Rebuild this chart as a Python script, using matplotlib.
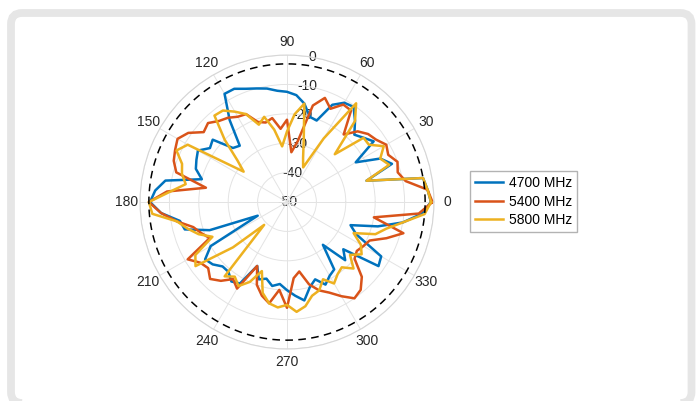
import numpy as np
import matplotlib.pyplot as plt
from matplotlib.patches import FancyBboxPatch

plt.rcParams['font.family'] = ['Liberation Sans', 'DejaVu Sans']

# Angles (deg) and gain (dB)
angles = list(range(0, 360, 5))

gain_4700 = [-1, -2, -3, -22, -12, -15, -23, -14, -16, -17.6, -14, -10.5,
             -11, -13.5, -20.5, -20, -16, -13.5, -12.5, -12, -10.8, -10, -9, -7.5,
             -7.5, -16, -25, -24, -17, -18, -15, -16, -17, -20, -8, -5,
             -3.4, -7, -13, -14, -22, -39, -20, -16, -17, -19, -19, -17,
             -18, -26, -22, -23, -21, -22, -20, -18, -16, -20, -22, -19,
             -21, -22, -31, -22, -25, -12, -13, -24, -27, -18, -10, -4]

gain_5400 = [-0.5, -2, -9, -11, -10, -12, -11, -13, -14, -16, -20, -12,
             -11.7, -15, -12.3, -16, -29, -33, -22, -25, -21, -22, -21, -17,
             -16.5, -15, -14, -12, -13, -9, -7, -8, -9, -11, -22, -9,
             -3, -7, -12, -17, -19, -21, -11, -14, -15, -13, -15, -18,
             -16, -26, -20, -17, -15, -20, -14, -24, -26, -21, -18, -16,
             -13, -10, -11, -14, -20, -21, -20, -19, -14, -9, -20, -5]

gain_5800 = [-1, -2, -3, -22, -13, -15, -12, -16, -16, -27, -14, -9,
             -25, -37, -34, -28, -16, -20, -26, -31, -25, -20, -22, -17,
             -14.5, -12, -11.6, -20, -28, -32, -11, -8.5, -12, -13, -15, -10,
             -3, -4, -12, -15, -18, -22, -14, -12, -26, -39, -17, -19,
             -17, -20, -25, -18, -15, -14, -15, -12.5, -14, -17, -18, -21,
             -18, -20, -21, -18, -22, -19, -21, -25, -18, -15, -10, -3]

series = [("4700 MHz", gain_4700, "#0072BD"),
          ("5400 MHz", gain_5400, "#D95319"),
          ("5800 MHz", gain_5800, "#EDB120")]

r_ticks = [-50, -40, -30, -20, -10, 0]
theta_ticks = list(range(0, 360, 30))
ref_level = -3

fig = plt.figure(figsize=(7.0, 4.01), dpi=100)

# rounded grey frame around the figure (pixel coordinates)
bg = fig.add_axes([0, 0, 1, 1], zorder=0)
bg.set_xlim(0, 700)
bg.set_ylim(0, 401)
bg.axis('off')
bg.add_patch(FancyBboxPatch((11, -2), 680.5, 390,
                            boxstyle="round,pad=0,rounding_size=11",
                            fill=False, ec='#e6e6e6', lw=5.6))

ax = fig.add_axes([0.2, 0.1297, 0.42, 0.733], projection='polar', zorder=1)
ax.set_theta_zero_location('E')
ax.set_theta_direction(1)

th = np.deg2rad(angles + [angles[0]])
for label, vals, col in series:
    ax.plot(th, vals + [vals[0]], color=col, lw=1.8, label=label)

# -3 dB reference circle
circ = np.linspace(0, 2 * np.pi, 361)
ax.plot(circ, np.full_like(circ, ref_level), color='black', lw=1.1,
        linestyle=(0, (5, 3.5)))

ax.set_ylim(r_ticks[0], r_ticks[-1])
ax.set_yticks(r_ticks)
ax.set_yticklabels([])
ax.set_thetagrids(theta_ticks, [str(t) for t in theta_ticks])
ax.tick_params(axis='x', labelsize=10, colors='#262626', pad=-1)
ax.grid(color='#e3e3e3', lw=0.7)
ax.spines['polar'].set_color('#d6d6d6')
ax.spines['polar'].set_linewidth(0.8)

for r in r_ticks:
    ax.text(np.deg2rad(80), r, str(r), ha='center', va='center',
            fontsize=10, color='#262626', zorder=0.5)

fig.legend(loc='center left', bbox_to_anchor=(0.672, 0.4975),
           fontsize=10, frameon=True, fancybox=False, edgecolor='#a0a0a0',
           handlelength=2.0, borderpad=0.35, labelspacing=0.3,
           handletextpad=0.4, borderaxespad=0)

fig.savefig("out.png", dpi=100)
